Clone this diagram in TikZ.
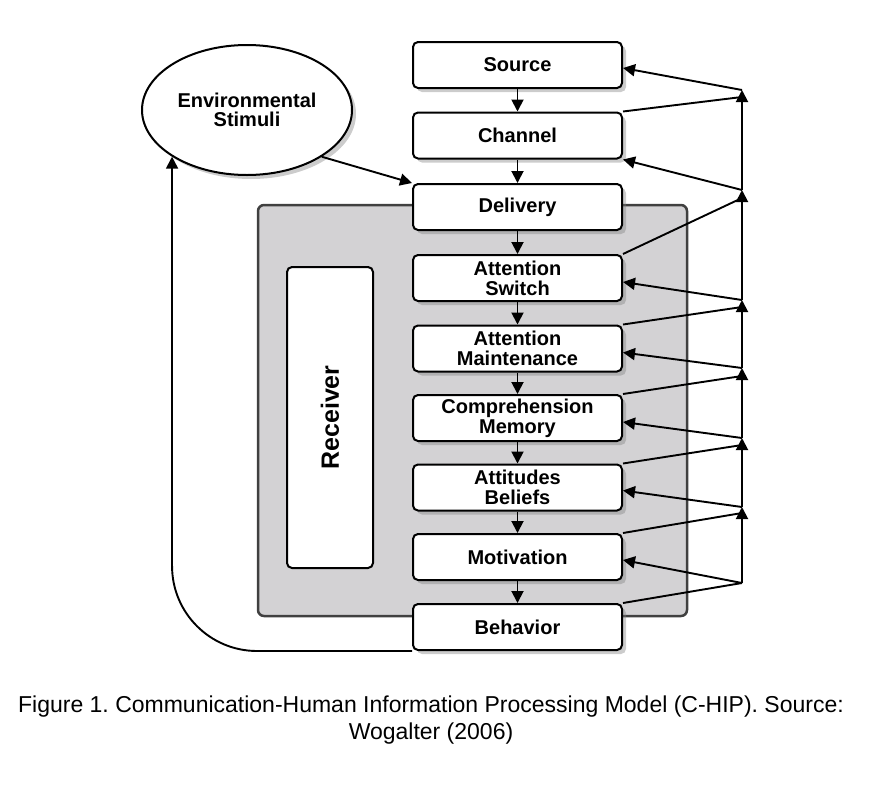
\documentclass[tikz,border=0pt]{standalone}
\usepackage{fontspec}
\setmainfont{Liberation Sans}
\usetikzlibrary{arrows.meta,shapes.geometric,shadows}
\definecolor{recvgray}{RGB}{211,210,212}
\frenchspacing
\begin{document}
\begin{tikzpicture}[x=1pt,y=-1pt,
  stage/.style={draw, line width=2pt, rounded corners=5pt, fill=white,
    minimum width=209pt, minimum height=46pt, inner sep=1pt, align=center,
    font=\bfseries\fontsize{20}{20}\selectfont,
    drop shadow={shadow xshift=4pt, shadow yshift=-4pt, opacity=.4}},
  flow/.style={line width=1.9pt, -{Triangle[length=12pt,width=12pt]}},
  link/.style={line width=1.9pt}]
   \useasboundingbox (0,0) rectangle (879,793);

   % receiver area
   \draw[fill=recvgray, draw=black!75, line width=2.5pt, rounded corners=6pt] (258,205) rectangle (687,616);
   \node[draw, line width=2pt, rounded corners=5pt, fill=white, rotate=90,
     minimum width=301pt, minimum height=86pt,
     font=\bfseries\fontsize{25}{25}\selectfont] (rcv) at (330,417.5) {Receiver};

   \node[draw, ellipse, line width=2pt, fill=white, minimum width=210pt, minimum height=130pt,
     align=center, font=\bfseries\fontsize{20}{19}\selectfont,
     drop shadow={shadow xshift=4pt, shadow yshift=-4pt, opacity=.4}] (env) at (247,110) {Environmental\\Stimuli};

   \node[stage] (src) at (517.5,65) {Source};
   \node[stage] (chn) at (517.5,135.5) {Channel};
   \node[stage] (dlv) at (517.5,207) {Delivery};
   \node[stage] (asw) at (517.5,278) {Attention\\Switch};
   \node[stage] (amt) at (517.5,348.5) {Attention\\Maintenance};
   \node[stage] (cmp) at (517.5,418) {Comprehension\\Memory};
   \node[stage] (att) at (517.5,487.5) {Attitudes\\Beliefs};
   \node[stage] (mot) at (517.5,557) {Motivation};
   \node[stage] (beh) at (517.5,627) {Behavior};

   \draw[flow] (src) -- (chn);
   \draw[flow] (chn) -- (dlv);
   \draw[flow] (dlv) -- (asw);
   \draw[flow] (asw) -- (amt);
   \draw[flow] (amt) -- (cmp);
   \draw[flow] (cmp) -- (att);
   \draw[flow] (att) -- (mot);
   \draw[flow] (mot) -- (beh);

   \draw[flow] (env.-32) -- (dlv.north west);
   \draw[flow, rounded corners=85pt] (beh.south west) -| (env.south west);

   % feedback line on the right
   \coordinate (j1) at (742,90);
   \coordinate (j2) at (742,190);
   \coordinate (j3) at (742,300);
   \coordinate (j4) at (742,368);
   \coordinate (j5) at (742,438);
   \coordinate (j6) at (742,507);
   \coordinate (j7) at (742,583);

   \draw[flow] (j7) -- (j6);
   \draw[flow] (j6) -- (j5);
   \draw[flow] (j5) -- (j4);
   \draw[flow] (j4) -- (j3);
   \draw[flow] (j3) -- (j2);
   \draw[flow] (j2) -- (j1);

   \draw[link] (chn.north east) -- ([yshift=-7pt]j1);
   \draw[link] (asw.north east) -- ([yshift=-8pt]j2);
   \draw[link] (amt.north east) -- ([yshift=-7pt]j3);
   \draw[link] (cmp.north east) -- ([yshift=-8pt]j4);
   \draw[link] (att.north east) -- ([yshift=-7pt]j5);
   \draw[link] (mot.north east) -- ([yshift=-6pt]j6);
   \draw[link] (beh.north east) -- (j7);

   \draw[flow] (j1) -- ([yshift=-3pt]src.east);
   \draw[flow] (j2) -- (chn.south east);
   \draw[flow] (j3) -- ([yshift=-4pt]asw.east);
   \draw[flow] (j4) -- ([yshift=-4pt]amt.east);
   \draw[flow] (j5) -- ([yshift=-4pt]cmp.east);
   \draw[flow] (j6) -- ([yshift=-3pt]att.east);
   \draw[flow] (j7) -- ([yshift=-3pt]mot.east);

   \node[font=\fontsize{23}{27}\selectfont, align=center] (cap) at (431,720)
     {Figure 1. Communication-Human Information Processing Model (C-HIP). Source:\\Wogalter (2006)};
\end{tikzpicture}
\end{document}
